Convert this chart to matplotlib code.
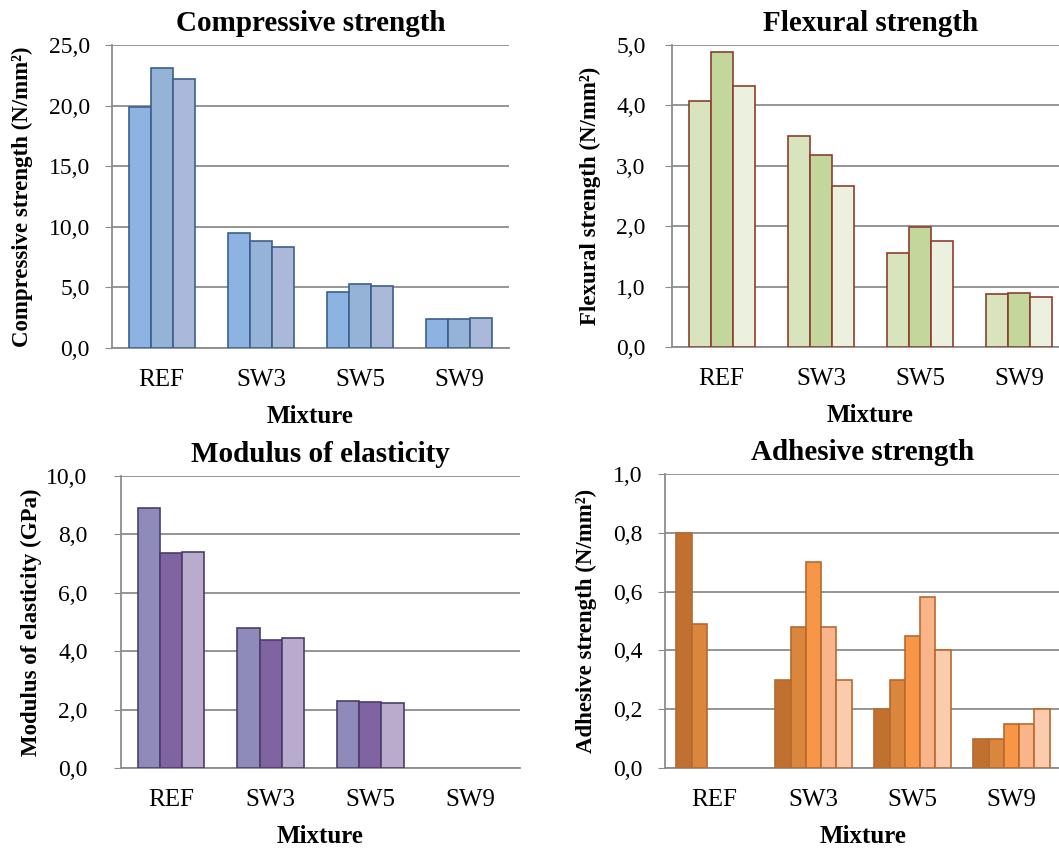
import numpy as np
import matplotlib
matplotlib.use("Agg")
import matplotlib.pyplot as plt
from matplotlib.ticker import FuncFormatter

plt.rcParams['font.family'] = ['Liberation Serif', 'DejaVu Serif']

# Data
mixtures = ["REF", "SW3", "SW5", "SW9"]

compressive = [
    [19.9, 9.5, 4.6, 2.4],
    [23.1, 8.8, 5.3, 2.4],
    [22.2, 8.3, 5.1, 2.5],
]
flexural = [
    [4.07, 3.49, 1.56, 0.88],
    [4.89, 3.18, 1.98, 0.90],
    [4.32, 2.67, 1.75, 0.83],
]
modulus = [
    [8.9, 4.78, 2.31, np.nan],
    [7.38, 4.39, 2.25, np.nan],
    [7.41, 4.44, 2.22, np.nan],
]
adhesive = [
    [0.80, 0.30, 0.20, 0.10],
    [0.49, 0.48, 0.30, 0.10],
    [np.nan, 0.70, 0.45, 0.15],
    [np.nan, 0.48, 0.58, 0.15],
    [np.nan, 0.30, 0.40, 0.20],
]

comp_colors = ["#8DB3E2", "#95B3D7", "#AAB9D9"]
flex_colors = ["#D7E4BD", "#C3D69B", "#EBF1DE"]
mod_colors = ["#8E8BBA", "#8064A2", "#B8ABCC"]
adh_colors = ["#C0712F", "#DB863D", "#F79646", "#F9B48A", "#FBCBAD"]

W, H = 1059, 850
fig = plt.figure(figsize=(W / 100, H / 100), dpi=100)


def px_axes(left, top, right, bottom):
    return fig.add_axes([left / W, 1 - bottom / H, (right - left) / W, (bottom - top) / H])


def draw(ax, box, series, colors, edge, ymax, step, title, ylabel, tick_pad, ylab_x):
    left, top, right, bottom = box
    n = len(series)
    width = 1.0 / (n + 1.5)
    x = np.arange(len(mixtures))
    for i, vals in enumerate(series):
        offs = (i - (n - 1) / 2) * width
        ax.bar(x + offs, vals, width, color=colors[i], edgecolor=edge, linewidth=1.2, zorder=3)
    ax.set_xlim(-0.5, len(mixtures) - 0.5)
    ax.set_ylim(0, ymax)
    ax.set_yticks(np.arange(0, ymax + step / 2, step))
    ax.yaxis.set_major_formatter(FuncFormatter(lambda v, p: f"{v:.1f}".replace(".", ",")))
    ax.grid(axis="y", color="#8c8c8c", linewidth=1.3, zorder=0)
    ax.set_axisbelow(True)
    for s in ["top", "right"]:
        ax.spines[s].set_visible(False)
    for s in ["left", "bottom"]:
        ax.spines[s].set_color("#8c8c8c")
        ax.spines[s].set_linewidth(1.3)
    ax.set_xticks(x)
    ax.set_xticklabels(mixtures, fontsize=18)
    ax.tick_params(axis="x", length=0, pad=15)
    ax.tick_params(axis="y", length=5, color="#8c8c8c", labelsize=17, pad=tick_pad)
    ax.set_title(title, fontsize=21, fontweight="bold", pad=10)
    ax.set_ylabel(ylabel, fontsize=16.5, fontweight="bold")
    ax.yaxis.set_label_coords((ylab_x + 11 - left) / (right - left), 0.5)
    ax.set_xlabel("Mixture", fontsize=18, fontweight="bold", labelpad=10)


box1 = (112, 45, 509, 348)
ax1 = px_axes(*box1)
draw(ax1, box1, compressive, comp_colors, "#3C5F8C", 25, 5, "Compressive strength",
     "Compressive strength (N/mm²)", 11, 22)

box2 = (672, 45, 1069, 347)
ax2 = px_axes(*box2)
draw(ax2, box2, flexural, flex_colors, "#8B3F2E", 5, 1, "Flexural strength",
     "Flexural strength (N/mm²)", 14, 590)

box3 = (121, 476, 520, 768)
ax3 = px_axes(*box3)
draw(ax3, box3, modulus, mod_colors, "#4B3D6B", 10, 2, "Modulus of elasticity",
     "Modulus of elasticity (GPa)", 19, 31)

box4 = (665, 474, 1061, 768)
ax4 = px_axes(*box4)
draw(ax4, box4, adhesive, adh_colors, "#B8692F", 1, 0.2, "Adhesive strength",
     "Adhesive strength (N/mm²)", 11, 586)

fig.savefig("out.png", dpi=100)
